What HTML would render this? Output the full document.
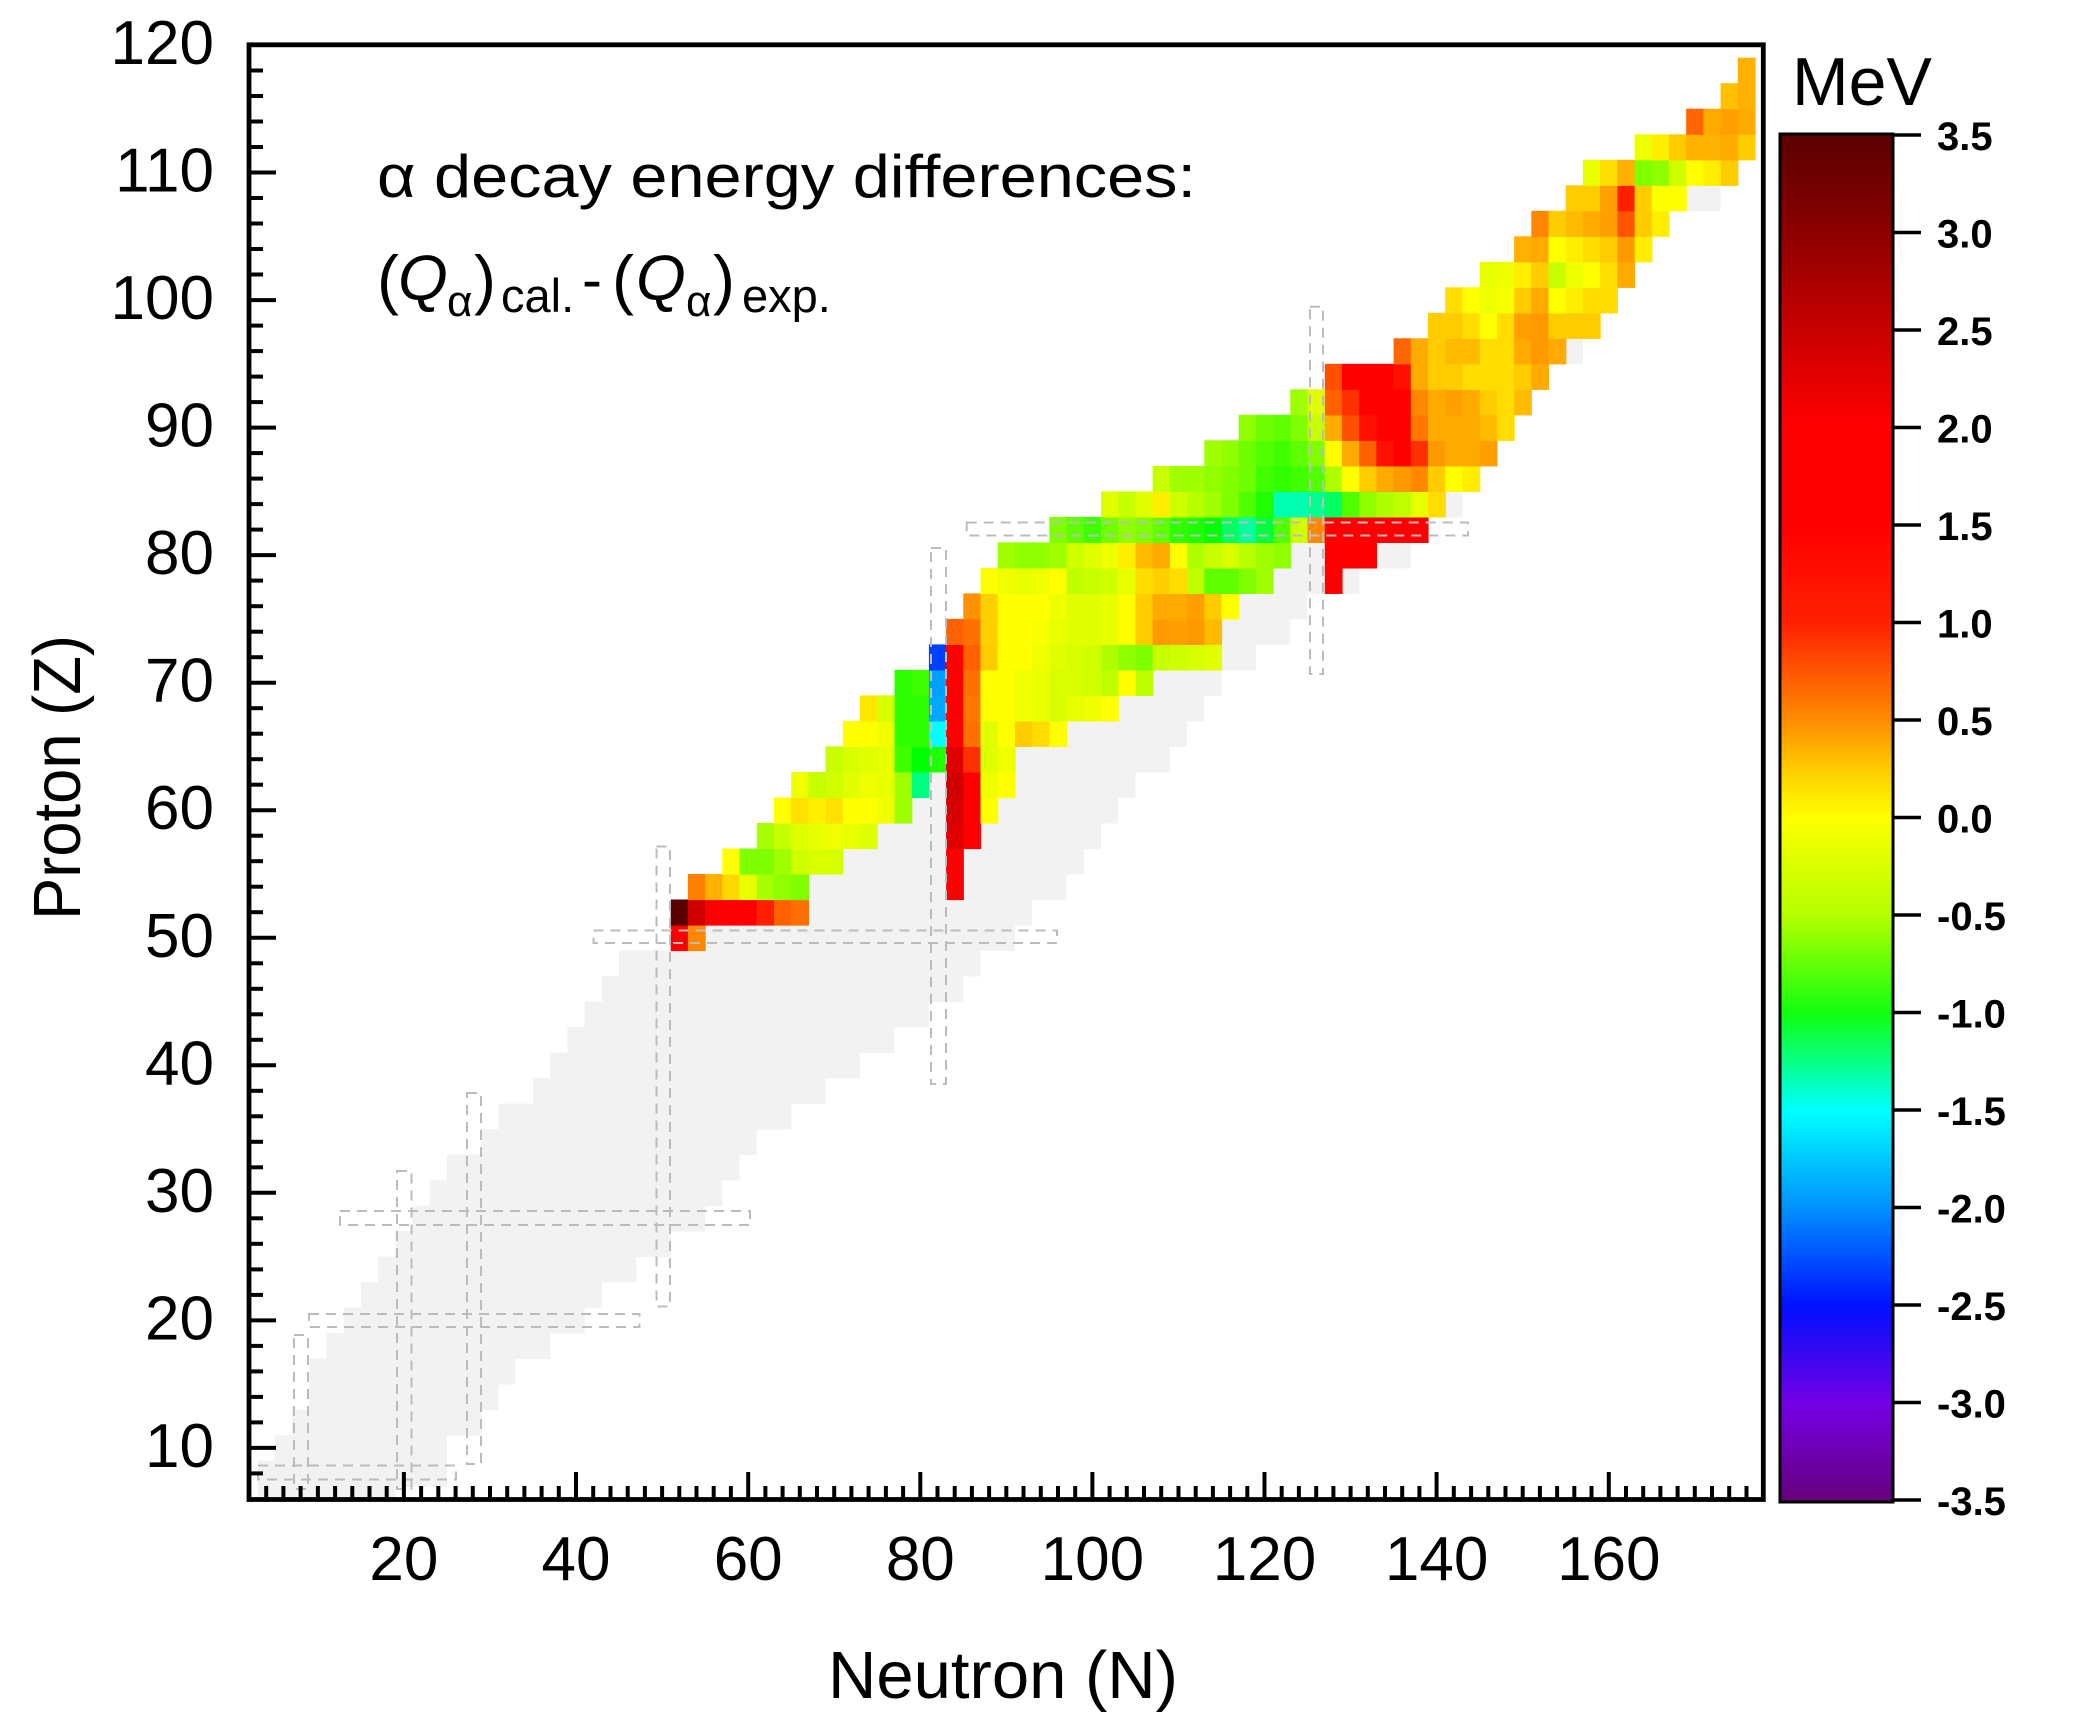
<!DOCTYPE html>
<html>
<head>
<meta charset="utf-8">
<style>
html,body{margin:0;padding:0;background:#fff;}
svg{display:block;}
text{font-family:"Liberation Sans",Arial,sans-serif;fill:#000;}
</style>
</head>
<body>
<svg width="2074" height="1723" viewBox="0 0 2074 1723">
<defs>
<clipPath id="pc"><rect x="249" y="45" width="1514" height="1454"/></clipPath>
<linearGradient id="cb" x1="0" y1="0" x2="0" y2="1">
<stop offset="0" stop-color="#5a0000"/>
<stop offset="0.0714" stop-color="#8c0000"/>
<stop offset="0.1429" stop-color="#c80000"/>
<stop offset="0.2143" stop-color="#ff0000"/>
<stop offset="0.2857" stop-color="#ff0000"/>
<stop offset="0.3571" stop-color="#ff2000"/>
<stop offset="0.4286" stop-color="#ff8c00"/>
<stop offset="0.4643" stop-color="#ffcc00"/>
<stop offset="0.5" stop-color="#ffff00"/>
<stop offset="0.5714" stop-color="#b4ff00"/>
<stop offset="0.6429" stop-color="#10ff10"/>
<stop offset="0.7143" stop-color="#00ffff"/>
<stop offset="0.7857" stop-color="#0090ff"/>
<stop offset="0.8571" stop-color="#0010ff"/>
<stop offset="0.9286" stop-color="#7400e4"/>
<stop offset="1" stop-color="#66007a"/>
</linearGradient>
</defs>
<rect x="0" y="0" width="2074" height="1723" fill="#fff"/>
<g clip-path="url(#pc)">
<g id="grey"></g>
<g id="cells"></g>
<g id="dash" fill="none" stroke="#bcbcbc" stroke-width="2" stroke-dasharray="10 7">
<rect x="258" y="1465.5" width="198" height="14"/>
<rect x="294" y="1335" width="14" height="154"/>
<rect x="309" y="1314" width="330.5" height="13"/>
<rect x="397" y="1171" width="14.5" height="318"/>
<rect x="340" y="1211" width="410" height="14"/>
<rect x="467" y="1093" width="14" height="371"/>
<rect x="593.5" y="930.5" width="463.5" height="12.5"/>
<rect x="656.5" y="846.5" width="13.5" height="460"/>
<rect x="966.7" y="522.5" width="501.3" height="13"/>
<rect x="931" y="548" width="15" height="536"/>
<rect x="1310" y="306.7" width="13" height="367.3"/>
</g>
</g>
<g id="ticks" stroke="#000" stroke-width="4"></g>
<rect x="249" y="44.8" width="1514.3" height="1454.7" fill="none" stroke="#000" stroke-width="4.8"/>

<!-- Y tick labels -->
<g font-size="62" text-anchor="end">
<text x="214" y="64">120</text>
<text x="214" y="191.5">110</text>
<text x="214" y="319">100</text>
<text x="214" y="446.6">90</text>
<text x="214" y="574.1">80</text>
<text x="214" y="701.7">70</text>
<text x="214" y="829.2">60</text>
<text x="214" y="956.8">50</text>
<text x="214" y="1084.3">40</text>
<text x="214" y="1211.8">30</text>
<text x="214" y="1339.4">20</text>
<text x="214" y="1466.9">10</text>
</g>
<!-- X tick labels -->
<g font-size="62" text-anchor="middle">
<text x="403.9" y="1580">20</text>
<text x="576" y="1580">40</text>
<text x="748.2" y="1580">60</text>
<text x="920.3" y="1580">80</text>
<text x="1092.4" y="1580">100</text>
<text x="1264.5" y="1580">120</text>
<text x="1436.6" y="1580">140</text>
<text x="1608.8" y="1580">160</text>
</g>
<!-- axis titles -->
<text x="1003" y="1698" font-size="67" text-anchor="middle" textLength="350" lengthAdjust="spacingAndGlyphs">Neutron (N)</text>
<text transform="translate(80,777.5) rotate(-90)" font-size="67" text-anchor="middle" textLength="285" lengthAdjust="spacingAndGlyphs">Proton (Z)</text>

<!-- annotation -->
<text x="377" y="197" font-size="60" textLength="819" lengthAdjust="spacingAndGlyphs">α decay energy differences:</text>
<g>
<text x="377" y="302" font-size="66">(</text>
<text x="398" y="300" font-size="64" font-style="italic">Q</text>
<text x="447" y="316" font-size="44">α</text>
<text x="474" y="302" font-size="66">)</text>
<text x="501" y="312" font-size="47">cal.</text>
<text x="582" y="300" font-size="60">-</text>
<text x="612" y="302" font-size="66">(</text>
<text x="636" y="300" font-size="64" font-style="italic">Q</text>
<text x="686" y="316" font-size="44">α</text>
<text x="713" y="302" font-size="66">)</text>
<text x="742" y="312" font-size="47">exp.</text>
</g>

<!-- colorbar -->
<text x="1792" y="105" font-size="68">MeV</text>
<rect x="1780" y="134" width="113" height="1368" fill="url(#cb)" stroke="#000" stroke-width="3"/>
<g stroke="#000" stroke-width="3.5">
<line x1="1893" y1="135" x2="1921" y2="135"/>
<line x1="1893" y1="232.5" x2="1921" y2="232.5"/>
<line x1="1893" y1="330" x2="1921" y2="330"/>
<line x1="1893" y1="427.5" x2="1921" y2="427.5"/>
<line x1="1893" y1="525" x2="1921" y2="525"/>
<line x1="1893" y1="622.5" x2="1921" y2="622.5"/>
<line x1="1893" y1="720" x2="1921" y2="720"/>
<line x1="1893" y1="817.5" x2="1921" y2="817.5"/>
<line x1="1893" y1="915" x2="1921" y2="915"/>
<line x1="1893" y1="1012.5" x2="1921" y2="1012.5"/>
<line x1="1893" y1="1110" x2="1921" y2="1110"/>
<line x1="1893" y1="1207.5" x2="1921" y2="1207.5"/>
<line x1="1893" y1="1305" x2="1921" y2="1305"/>
<line x1="1893" y1="1402.5" x2="1921" y2="1402.5"/>
<line x1="1893" y1="1500" x2="1921" y2="1500"/>
</g>
<g font-size="40" font-weight="bold">
<text x="1937" y="150">3.5</text>
<text x="1937" y="247.5">3.0</text>
<text x="1937" y="345">2.5</text>
<text x="1937" y="442.5">2.0</text>
<text x="1937" y="540">1.5</text>
<text x="1937" y="637.5">1.0</text>
<text x="1937" y="735">0.5</text>
<text x="1937" y="832.5">0.0</text>
<text x="1937" y="930">-0.5</text>
<text x="1937" y="1027.5">-1.0</text>
<text x="1937" y="1125">-1.5</text>
<text x="1937" y="1222.5">-2.0</text>
<text x="1937" y="1320">-2.5</text>
<text x="1937" y="1417.5">-3.0</text>
<text x="1937" y="1515">-3.5</text>
</g>
</svg>
<script>
(function(){
var X=function(n){return 670.7+(n-51)*8.606;};
var Y=function(z){return 925-(z-51)*12.754;};
var greyRows=[[6,4,18],[8,4,24],[10,6,24],[12,8,28],[14,10,30],[16,10,32],[18,12,36],[20,14,40],[22,16,42],[24,18,46],[26,20,50],[28,22,54],[30,24,56],[32,26,58],[34,30,60],[36,32,64],[38,36,68],[40,38,72],[42,40,76],[44,42,80],[46,44,84],[48,46,86],[50,52,90],[52,52,92],[54,54,96],[56,58,98],[58,62,100],[60,64,102],[62,66,104],[64,70,108],[66,72,110],[68,74,112],[70,78,114],[72,82,118],[74,84,122],[76,86,124],[78,88,130],[80,90,136],[82,96,138],[84,102,142],[96,136,156],[108,156,172]];
var s='';
greyRows.forEach(function(r){var z=r[0],x=X(r[1]-1),y=Y(z+1),w=X(r[2]+1)-x,h=Y(z-1)-y+0.5;
s+='<rect x="'+x.toFixed(1)+'" y="'+y.toFixed(1)+'" width="'+w.toFixed(1)+'" height="'+h.toFixed(1)+'" fill="#f2f2f2"/>';});
document.getElementById('grey').innerHTML=s;
var D=[
[50,52,"ff0000 ff8800"],
[52,52,"5a0000 d00000 ff0000 ff0000 ff0000 ff2000 ff6000 ff7000"],
[54,54,"ff8000 ffb000 ffd800 e8ff00 a8ff00 90ff00 80ff00"],[54,84,"ff0000"],
[56,58,"ffff00 80ff00 80ff00 a0ff00 d0ff00 d8ff00 d8ff00"],[56,84,"ff0000"],
[58,62,"a8ff00 c8ff00 e0ff00 e8ff00 f0ff00 e8ff00 e0ff00"],[58,84,"e00000 ff0000"],
[60,64,"ffff00 ffe000 fff000 ffe000 ffff00 ffff00 f0ff00 a0ff00"],[60,84,"d80000 ff0000 ffff00"],
[62,66,"f0ff00 c8ff00 d0ff00 e0ff00 f0ff00 e8ff00 a0ff00 00ff80"],[62,84,"d00000 ff0000 f0ff00 ffff00"],
[64,70,"c8ff00 d8ff00 e0ff00 e8ff00 40ff00 00ff00 20ff00"],[64,84,"e00000 ff3000 e0ff00 f0ff00"],
[66,72,"ffff00 ffff00 f0ff00 30ff00 30ff00 00ffff"],[66,84,"ff0000 ff7000 e0ff00 ffff00 ffcc00 ffdd00 ffff00"],
[68,74,"ffe800 d8ff00 30ff00 30ff00 00a8ff"],[68,84,"ff0000 ff7700 ffff00 ffff00 f0ff00 e8ff00 d8ff00 e8ff00 f0ff00 ffff00"],
[70,78,"30ff00 40ff00 00a0ff"],[70,84,"ff0000 ff7000 ffff00 ffff00 f0ff00 e8ff00 d8ff00 d8ff00 d0ff00 c0ff00 ffff00 c0ff00"],
[72,82,"0040ff ff0000 ff6000 ffcc00 ffff00 ffff00 f0ff00 e0ff00 d8ff00 d0ff00 b0ff00 90ff00 80ff00 c8ff00 d0ff00 d8ff00 e0ff00"],
[74,84,"ff6000 ff7000 ffd000 ffff00 ffff00 f8ff00 e8ff00 e0ff00 e0ff00 e8ff00 ffff00 ffcc00 ff9900 ffa000 ff9900 ffbb00"],
[76,86,"ff9000 ffd000 ffff00 ffff00 ffff00 f0ff00 e0ff00 e0ff00 e8ff00 ffff00 ffcc00 ffaa00 ffaa00 ffa000 ffcc00 ffff00"],
[78,88,"ffff00 f0ff00 e8ff00 f0ff00 ffff00 c0ff00 c8ff00 d0ff00 e8ff00 ffdd00 ffd000 ffdd00 c0ff00 60ff00 60ff00 80ff00 a0ff00"],[78,128,"ff0000"],
[80,90,"a0ff00 90ff00 90ff00 a0ff00 d0ff00 e0ff00 f0ff00 ffee00 ffbb00 ffaa00 ffff00 b0ff00 c8ff00 d8ff00 b8ff00 a0ff00 90ff00"],[80,128,"ff0000 ff0000 ff0000"],
[82,96,"80ff00 60ff00 40ff00 70ff00 90ff00 80ff00 60ff00 30ff00 20ff00 00ff00 00ff60 00ffa0 00ff40 50ff00 d0ff00 ff8800 ff0000 ff0000 ff0000 ff0000 ff0000 ff0000"],
[84,102,"e0ff00 c8ff00 e0ff00 ffee00 d0ff00 b8ff00 a0ff00 80ff00 50ff00 20ff00 00ffb0 00ffb0 00ff90 00ff60 50ff00 90ff00 b0ff00 c0ff00 e8ff00 ffdd00"],
[86,108,"c8ff00 a0ff00 a0ff00 90ff00 80ff00 70ff00 40ff00 30ff00 40ff00 50ff00 b0ff00 ffff00 ffcc00 ffaa00 ff9900 ff8800 ffcc00 ffff00 ffee00"],
[88,114,"a0ff00 90ff00 70ff00 50ff00 40ff00 60ff00 80ff00 ffff00 ffaa00 ff6000 ff1000 ff0000 ff3000 ff9900 ffaa00 ffaa00 ffa000"],
[90,118,"90ff00 70ff00 60ff00 80ff00 c8ff00 ffaa00 ff5000 ff1000 ff0000 ff0000 ff7700 ffaa00 ffaa00 ffaa00 ffbb00 ffdd00"],
[92,124,"a0ff00 e0ff00 ff6000 ff3000 ff0000 ff0000 ff0000 ff8800 ffaa00 ffa000 ffaa00 ffcc00 ffdd00 ffbb00"],
[94,128,"ff5000 ff0000 ff0000 ff0000 ff1000 ffaa00 ffcc00 ffcc00 ffdd00 ffdd00 ffdd00 ffcc00 ffaa00"],
[96,136,"ff6600 ffaa00 ffcc00 ffbb00 ffbb00 ffdd00 ffdd00 ffaa00 ff9900 ffaa00"],
[98,140,"ffcc00 ffcc00 ffdd00 ffff00 ffdd00 ffa000 ff9900 ffcc00 ffcc00 ffcc00"],
[100,142,"ffdd00 ffff00 eeff00 f8ff00 ffcc00 ffaa00 ffff00 ffee00 ffdd00 ffdd00"],
[102,146,"e8ff00 f0ff00 ffee00 ffcc00 c8ff00 eeff00 ffff00 ffdd00 ffaa00"],
[104,150,"ffb000 ffaa00 ffff00 ffee00 ffdd00 ffcc00 ff9900 ffee00"],
[106,152,"ff8800 ffcc00 ffbb00 ffaa00 ffa000 ff5500 ffcc00 ffee00"],
[108,156,"ffcc00 ffcc00 ffa000 ff2000 ffcc00 ffff00 ffff00"],
[110,158,"e8ff00 ffdd00 ffb000 80ff00 90ff00 d0ff00 ffff00 ffee00 ffcc00"],
[112,164,"eeff00 ffee00 ffcc00 ffb000 ffb000 ffaa00 ffcc00"],
[114,170,"ff6600 ffaa00 ffa000 ffaa00"],
[116,174,"ffc000 ffb000"],
[118,176,"ffb000"]
];
s='';
D.forEach(function(r){var z=r[0],n0=r[1],cs=r[2].split(' ');
cs.forEach(function(c,i){var n=n0+2*i,x=X(n-1),y=Y(z+1),w=X(n+1)-x+0.6,h=Y(z-1)-y+0.6;
s+='<rect x="'+x.toFixed(1)+'" y="'+y.toFixed(1)+'" width="'+w.toFixed(1)+'" height="'+h.toFixed(1)+'" fill="#'+c+'"/>';});});
document.getElementById('cells').innerHTML=s;
s='';
for(var n=4;n<=176;n+=2){var x=X(n).toFixed(1),maj=(n%20===0);
s+='<line x1="'+x+'" y1="1499" x2="'+x+'" y2="'+(maj?1472:1486)+'"/>';}
for(var z=8;z<=118;z+=2){var y=Y(z).toFixed(1),mj=(z%10===0);
s+='<line x1="249" y1="'+y+'" x2="'+(mj?276:263)+'" y2="'+y+'"/>';}
document.getElementById('ticks').innerHTML=s;
})();
</script>
</body>
</html>
